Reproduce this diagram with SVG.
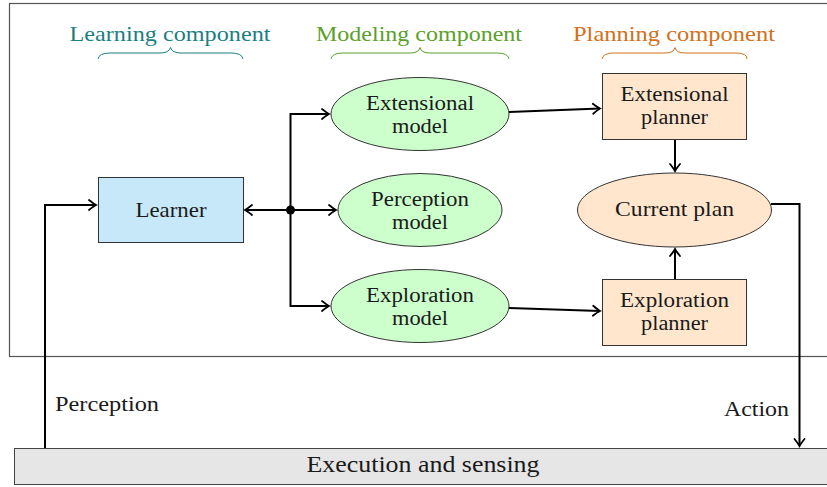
<svg xmlns="http://www.w3.org/2000/svg" width="827" height="487" viewBox="0 0 827 487">
<defs>
<marker id="ah" markerWidth="14" markerHeight="14" refX="0" refY="0" viewBox="-8 -7 10 14" markerUnits="userSpaceOnUse" orient="auto">
<path d="M-7,-5 Q-2,-1 0,0 Q-2,1 -7,5" fill="none" stroke="#000" stroke-width="1.8" stroke-linecap="round"/>
</marker>
</defs>
<style>
text{font-family:"Liberation Serif","DejaVu Serif",serif;font-size:21px;fill:#1a1a1a;text-anchor:middle}
.two{font-size:20px}
.box{stroke:#333;stroke-width:1}
.blue{fill:#c7e8f8}
.green{fill:#ccffcc}
.orange{fill:#ffe6cc}
.conn{fill:none;stroke:#000;stroke-width:2}
.brace{fill:none;stroke-width:1}
.lbl{text-anchor:start}
</style>
<rect x="9.5" y="3.5" width="830" height="353" fill="none" stroke="#555" stroke-width="1.2"/>

<g id="headers">
<text x="170" y="41" style="fill:#1a7f7f" textLength="201" lengthAdjust="spacingAndGlyphs">Learning component</text>
<path class="brace" stroke="#1a7f7f" d="M98,59 Q99,53 110,53 L160,53 Q169,53 170.5,47.5 Q172,53 181,53 L231,53 Q242,53 243,59"/>
<text x="419" y="41" style="fill:#5aa02a" textLength="206" lengthAdjust="spacingAndGlyphs">Modeling component</text>
<path class="brace" stroke="#5aa02a" d="M331,59 Q332,53 343,53 L410,53 Q419,53 420,47.5 Q421,53 430,53 L497,53 Q508,53 509,59"/>
<text x="674" y="41" style="fill:#d2701c" textLength="202" lengthAdjust="spacingAndGlyphs">Planning component</text>
<path class="brace" stroke="#d2701c" d="M602,59 Q603,53 614,53 L665,53 Q674,53 675,47.5 Q676,53 685,53 L736,53 Q747,53 747,59"/>
</g>

<g id="learner">
<rect class="box blue" x="98.5" y="177.5" width="145" height="65"/>
<text x="171" y="217" textLength="71" lengthAdjust="spacingAndGlyphs">Learner</text>
</g>

<g id="extensional-model">
<ellipse class="box green" cx="420" cy="114" rx="89" ry="36.5"/>
<text class="two" x="420" y="110" textLength="108" lengthAdjust="spacingAndGlyphs">Extensional</text>
<text class="two" x="420" y="132.5" textLength="56" lengthAdjust="spacingAndGlyphs">model</text>
</g>

<g id="perception-model">
<ellipse class="box green" cx="420" cy="210" rx="82" ry="36.5"/>
<text class="two" x="420" y="206" textLength="98" lengthAdjust="spacingAndGlyphs">Perception</text>
<text class="two" x="420" y="228.5" textLength="56" lengthAdjust="spacingAndGlyphs">model</text>
</g>

<g id="exploration-model">
<ellipse class="box green" cx="420" cy="306" rx="89" ry="36.5"/>
<text class="two" x="420" y="302" textLength="108" lengthAdjust="spacingAndGlyphs">Exploration</text>
<text class="two" x="420" y="324.5" textLength="56" lengthAdjust="spacingAndGlyphs">model</text>
</g>

<g id="extensional-planner">
<rect class="box orange" x="602.5" y="73.5" width="144" height="66"/>
<text class="two" x="674.5" y="101" textLength="108" lengthAdjust="spacingAndGlyphs">Extensional</text>
<text class="two" x="674.5" y="123.5" textLength="67" lengthAdjust="spacingAndGlyphs">planner</text>
</g>

<g id="current-plan">
<ellipse class="box orange" cx="674.5" cy="210" rx="97" ry="37"/>
<text x="674.5" y="216" textLength="119" lengthAdjust="spacingAndGlyphs">Current plan</text>
</g>

<g id="exploration-planner">
<rect class="box orange" x="602.5" y="279.5" width="144" height="66"/>
<text class="two" x="674.5" y="307" textLength="109" lengthAdjust="spacingAndGlyphs">Exploration</text>
<text class="two" x="674.5" y="329.5" textLength="67" lengthAdjust="spacingAndGlyphs">planner</text>
</g>

<g id="execution">
<rect x="14.5" y="448.5" width="830" height="36" fill="#e6e6e6" stroke="#444" stroke-width="1"/>
<text x="423" y="472" style="font-size:23px" textLength="233" lengthAdjust="spacingAndGlyphs">Execution and sensing</text>
</g>

<g id="connectors">
<circle cx="290.5" cy="210" r="4.5" fill="#000"/>
<path class="conn" d="M290.5,210 L245,210" marker-end="url(#ah)"/>
<path class="conn" d="M290.5,210 L336,210" marker-end="url(#ah)"/>
<path class="conn" d="M290.5,210 L290.5,114 L329,114" marker-end="url(#ah)"/>
<path class="conn" d="M290.5,210 L290.5,306 L329,306" marker-end="url(#ah)"/>
<path class="conn" d="M509,112 L600,108.5" marker-end="url(#ah)"/>
<path class="conn" d="M509,308 L600,311" marker-end="url(#ah)"/>
<path class="conn" d="M675,140 L675,171" marker-end="url(#ah)"/>
<path class="conn" d="M675,279 L675,249" marker-end="url(#ah)"/>
<path class="conn" d="M771,204 L799.5,204 L799.5,446" marker-end="url(#ah)"/>
<path class="conn" d="M45,448 L45,205 L96,205" marker-end="url(#ah)"/>
<text class="lbl" x="55" y="411" textLength="104" lengthAdjust="spacingAndGlyphs">Perception</text>
<text class="lbl" x="724" y="416" textLength="65" lengthAdjust="spacingAndGlyphs">Action</text>
</g>
</svg>
